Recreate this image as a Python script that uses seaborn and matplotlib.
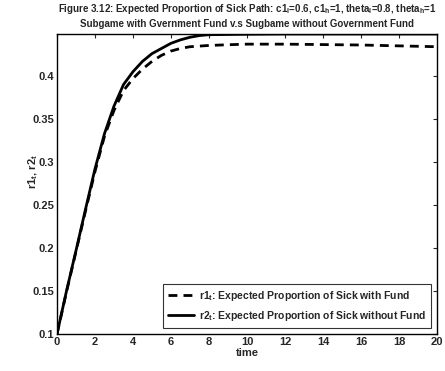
import numpy as np
import pandas as pd
import matplotlib
matplotlib.use("Agg")
import matplotlib.pyplot as plt
import seaborn as sns

# Time grid and expected proportion of sick for the two subgames
time_with_fund = [0, 0.5, 1.0, 1.5, 2.0, 2.5, 3.0, 3.5, 4.0, 4.5, 5.0, 5.5, 6.0,
                  6.5, 7.0, 8.0, 9.0, 10.0, 12.0, 14.0, 16.0, 18.0, 20.0]
r1_with_fund = [0.100, 0.149, 0.196, 0.243, 0.289, 0.330, 0.360, 0.383, 0.397,
                0.408, 0.417, 0.424, 0.429, 0.432, 0.434, 0.4355, 0.4363, 0.437,
                0.437, 0.4365, 0.436, 0.435, 0.434]

time_without_fund = [0, 0.5, 1.0, 1.5, 2.0, 2.5, 3.0, 3.5, 4.0, 4.5, 5.0, 5.5,
                     6.0, 6.5, 7.0, 7.5, 8.0, 10.0, 12.0, 14.0, 16.0, 18.0, 20.0]
r2_without_fund = [0.100, 0.150, 0.197, 0.245, 0.292, 0.333, 0.365, 0.390, 0.405,
                   0.417, 0.426, 0.432, 0.438, 0.442, 0.445, 0.447, 0.448, 0.4485,
                   0.4488, 0.4488, 0.4488, 0.4488, 0.4488]

label_r1 = r"r1$_t$: Expected Proportion of Sick with Fund"
label_r2 = r"r2$_t$: Expected Proportion of Sick without Fund"

df = pd.concat([
    pd.DataFrame({"time": time_with_fund, "value": r1_with_fund, "series": label_r1}),
    pd.DataFrame({"time": time_without_fund, "value": r2_without_fund, "series": label_r2}),
], ignore_index=True)

sns.set_style("white")
plt.rcParams["font.family"] = ["Liberation Sans", "DejaVu Sans"]
plt.rcParams["font.weight"] = "bold"
plt.rcParams["mathtext.fontset"] = "custom"
plt.rcParams["mathtext.rm"] = "Liberation Sans:bold"
plt.rcParams["mathtext.it"] = "Liberation Sans:bold"
plt.rcParams["mathtext.bf"] = "Liberation Sans:bold"

fig = plt.figure(figsize=(4.45, 3.71), dpi=100)
ax = fig.add_axes([57 / 445, 37 / 371, (437 - 57) / 445, (334 - 34) / 371])

sns.lineplot(data=df, x="time", y="value", hue="series", style="series",
             palette=["black", "black"],
             dashes={label_r1: (3.2, 2.2), label_r2: ""},
             linewidth=2.0, ax=ax)

ax.set_xlim(0, 20)
ax.set_ylim(0.1, max(r2_without_fund))
ax.set_xticks(np.arange(0, 21, 2))
ax.set_yticks([0.1, 0.15, 0.2, 0.25, 0.3, 0.35, 0.4])
ax.set_yticklabels(["0.1", "0.15", "0.2", "0.25", "0.3", "0.35", "0.4"])
ax.tick_params(direction="in", top=True, right=True, length=3, width=0.8,
               labelsize=8, pad=2)
for lab in ax.get_xticklabels() + ax.get_yticklabels():
    lab.set_fontweight("bold")
for sp in ax.spines.values():
    sp.set_color("black")
    sp.set_linewidth(1.0)

ax.set_xlabel("time", fontsize=8, fontweight="bold", labelpad=1)
ax.set_ylabel(r"r1$_t$, r2$_t$", fontsize=8, fontweight="bold")
ax.yaxis.set_label_coords(-0.045, 0.54)
ax.set_title("Figure 3.12: Expected Proportion of Sick Path: "
             r"c1$_l$=0.6, c1$_h$=1, theta$_l$=0.8, theta$_h$=1" "\n"
             "Subgame with Gvernment Fund v.s Sugbame without Government Fund",
             fontsize=7, fontweight="bold", pad=5, linespacing=1.35)

leg = ax.legend(loc="lower right", fontsize=7.5, frameon=True, fancybox=False,
                edgecolor="black", handlelength=2.5, handletextpad=0.5,
                borderaxespad=0.6, labelspacing=0.6, borderpad=0.45)
leg.get_frame().set_linewidth(0.8)
for t in leg.get_texts():
    t.set_fontweight("bold")

fig.savefig("out.png", dpi=100)
